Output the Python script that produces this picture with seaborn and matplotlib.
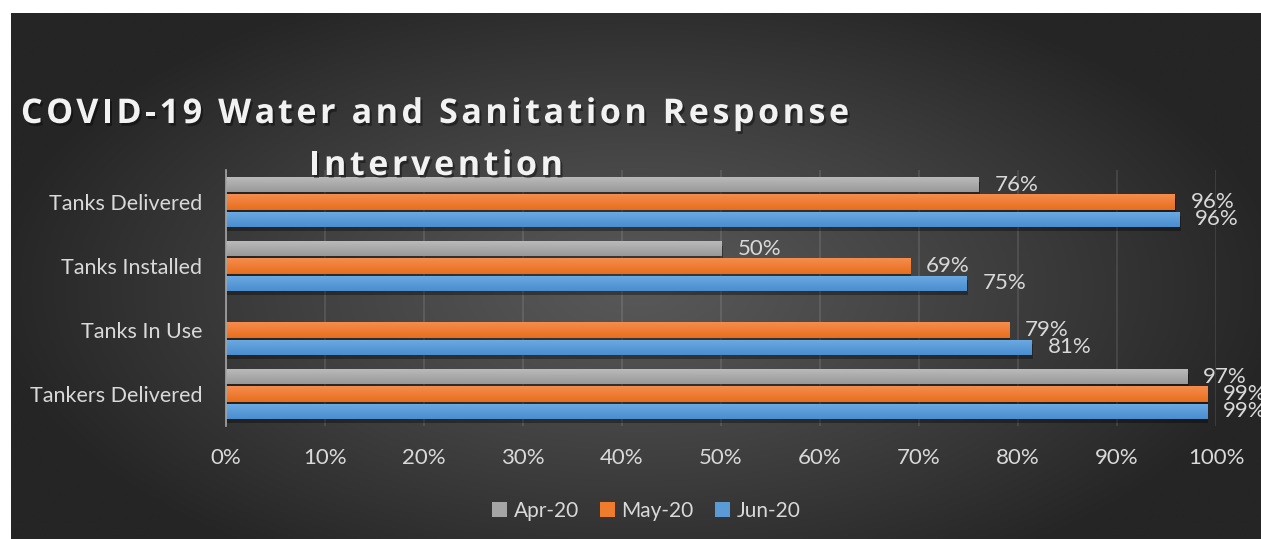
import numpy as np
import pandas as pd
import matplotlib
matplotlib.use("Agg")
import matplotlib.pyplot as plt
import matplotlib.patheffects as pe
from matplotlib.patches import Patch
from matplotlib.ticker import PercentFormatter
import seaborn as sns

# ---- data -------------------------------------------------------------
categories = ["Tanks Delivered", "Tanks Installed", "Tanks In Use", "Tankers Delivered"]
months = ["Apr-20", "May-20", "Jun-20"]
apr_20 = [0.760, 0.501, np.nan, 0.971]
may_20 = [0.958, 0.691, 0.791, 0.991]
jun_20 = [0.963, 0.748, 0.814, 0.991]
x_ticks = [0.0, 0.1, 0.2, 0.3, 0.4, 0.5, 0.6, 0.7, 0.8, 0.9, 1.0]

title_lines = ["COVID-19 Water and Sanitation Response", "Intervention"]

# ---- style ------------------------------------------------------------
base_colors = {"Apr-20": "#a5a5a5", "May-20": "#ef7b2c", "Jun-20": "#5b9bd5"}
grad_top = {"Apr-20": "#bcbcbc", "May-20": "#f68c4e", "Jun-20": "#6cabe3"}
grad_bot = {"Apr-20": "#999999", "May-20": "#e86e1c", "Jun-20": "#4a8ecf"}
text_color = "#d9d9d9"

sns.set_theme(style="white")
plt.rcParams["font.family"] = ["Lato", "DejaVu Sans"]

W, H = 1261, 539
fig = plt.figure(figsize=(W / 100, H / 100), dpi=100)
fig.patch.set_facecolor("white")

# dark radial-gradient panel behind the chart
left_px, top_px = 11, 13
bg_ax = fig.add_axes([left_px / W, 0, 1 - left_px / W, 1 - top_px / H], zorder=-10)
gh, gw = 300, 700
yy, xx = np.mgrid[0:gh, 0:gw]
cx, cy = gw * 0.50, gh * 0.52
r = np.sqrt(((xx - cx) / (gw * 0.52)) ** 2 + ((yy - cy) / (gh * 0.62)) ** 2)
r = np.clip(r, 0, 1) ** 1.15
c_in = np.array([0x58, 0x58, 0x58]) / 255
c_out = np.array([0x25, 0x25, 0x25]) / 255
img = c_in[None, None, :] * (1 - r[..., None]) + c_out[None, None, :] * r[..., None]
bg_ax.imshow(img, aspect="auto", extent=(0, 1, 0, 1), interpolation="bilinear")
bg_ax.set_axis_off()

# ---- bars -------------------------------------------------------------
df = pd.DataFrame({
    "category": categories * 3,
    "month": np.repeat(months, len(categories)),
    "value": apr_20 + may_20 + jun_20,
})

ax = fig.add_axes([226 / W, 1 - 426 / H, 990 / W, 256 / H])
ax.set_facecolor("none")
sns.barplot(data=df, y="category", x="value", hue="month", order=categories,
            hue_order=months, palette=base_colors, orient="h", width=0.8,
            gap=0.12, legend=False, ax=ax, zorder=3)

# gradient fill and soft drop shadow on every bar
shadow = [pe.SimplePatchShadow(offset=(1, -3), shadow_rgbFace="black", alpha=0.35), pe.Normal()]
bars_by_month = {}
for container, month in zip(ax.containers, months):
    top = np.array(matplotlib.colors.to_rgb(grad_top[month]))
    bot = np.array(matplotlib.colors.to_rgb(grad_bot[month]))
    t = np.linspace(0, 1, 32)[:, None, None]
    grad = top[None, None, :] * (1 - t) + bot[None, None, :] * t
    lookup = {}
    for bar in container.patches:
        w = bar.get_width()
        if not np.isfinite(w) or w <= 0:
            continue
        y0, h = bar.get_y(), bar.get_height()
        lookup[int(round(y0 + h / 2))] = bar
        bar.set_edgecolor("none")
        bar.set_path_effects(shadow)
        im = ax.imshow(grad, aspect="auto", extent=(bar.get_x(), bar.get_x() + w, y0 + h, y0),
                       origin="upper", zorder=4, interpolation="bilinear")
        im.set_clip_path(bar)
    bars_by_month[month] = lookup

ax.set_xlim(0, 1)
ax.set_ylim(3.5, -0.5)

# value labels
for month, values in zip(months, [apr_20, may_20, jun_20]):
    for i, v in enumerate(values):
        if not np.isfinite(v) or i not in bars_by_month[month]:
            continue
        bar = bars_by_month[month][i]
        ax.annotate(f"{round(v * 100):d}%", xy=(v, bar.get_y() + bar.get_height() / 2),
                    xytext=(16, 0), textcoords="offset pixels", ha="left", va="center",
                    color=text_color, fontsize=16, zorder=6, annotation_clip=False)

# ---- axes -------------------------------------------------------------
ax.set_xticks(x_ticks)
ax.xaxis.set_major_formatter(PercentFormatter(1.0, decimals=0))
ax.grid(axis="x", color="#ffffff", alpha=0.1, linewidth=1.5, zorder=0)
ax.grid(axis="y", visible=False)
ax.set_axisbelow(True)
for s in ["top", "right", "bottom"]:
    ax.spines[s].set_visible(False)
ax.spines["left"].set_color("#a6a6a6")
ax.spines["left"].set_linewidth(1.2)
ax.spines["left"].set_zorder(5)
ax.tick_params(axis="x", length=0, pad=16, labelsize=16, labelcolor=text_color)
ax.tick_params(axis="y", length=0, pad=17, labelsize=15.5, labelcolor=text_color)
ax.set_xlabel("")
ax.set_ylabel("")

# ---- title (bold, letter-spaced, with shadow) ------------------------
title_fx = [pe.SimplePatchShadow(offset=(1.5, -2), shadow_rgbFace="black", alpha=0.4), pe.Normal()]
title_kw = dict(fontsize=24.5, fontweight="bold", color="#f2f2f2",
                family=["Open Sans", "DejaVu Sans"])
renderer = fig.canvas.get_renderer()


def text_width(s):
    t = fig.text(0, 0, s, **title_kw)
    w = t.get_window_extent(renderer).width
    t.remove()
    return w


def spaced_line(s, center_px, base_px, tracking_px):
    ref = text_width("I")
    starts = [text_width(s[:i] + "I") - ref if i else 0.0 for i in range(len(s))]
    total = text_width(s) + tracking_px * (len(s) - 1)
    x0 = center_px - total / 2
    for i, ch in enumerate(s):
        if ch == " ":
            continue
        fig.text((x0 + starts[i] + i * tracking_px) / W, 1 - base_px / H, ch,
                 ha="left", va="baseline", path_effects=title_fx, zorder=10, **title_kw)


spaced_line(title_lines[0], 435, 123, 3.6)
spaced_line(title_lines[1], 436, 175, 3.6)

# ---- legend -----------------------------------------------------------
handles = [Patch(facecolor=base_colors[m], edgecolor="none") for m in months]
fig.legend(handles, months, loc="center", bbox_to_anchor=(646 / W, 1 - 511 / H),
           ncol=3, frameon=False, fontsize=15, labelcolor=text_color,
           handlelength=0.75, handleheight=0.75, handletextpad=0.3, columnspacing=1.0)

fig.savefig("out.png", dpi=100, facecolor=fig.get_facecolor())
